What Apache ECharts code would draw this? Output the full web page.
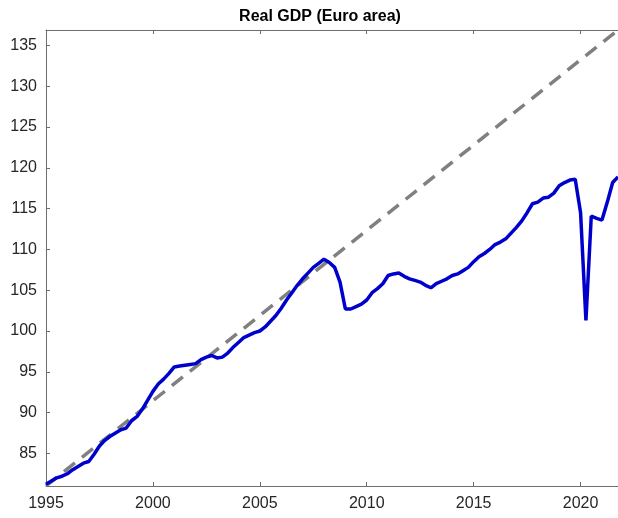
<!DOCTYPE html>
<html>
<head>
<meta charset="utf-8">
<script src="https://cdn.jsdelivr.net/npm/echarts@6/dist/echarts.min.js"></script>
<style>
    html, body { margin: 0; padding: 0; background: #fff; }
    #chart { width: 618px; height: 518px; }
</style>
</head>
<body>
<div id="chart"></div>
<script>
    // quarterly real GDP, 1995Q1 .. 2021Q4
    let startYear = 1995
    let gdp = [
        81.2, 81.6, 82.0, 82.2,
        82.5, 83.0, 83.4, 83.8,
        84.0, 84.9, 85.9, 86.6,
        87.1, 87.5, 87.9, 88.1,
        89.0, 89.5, 90.4, 91.5,
        92.6, 93.5, 94.1, 94.8,
        95.6, 95.7, 95.8, 95.9,
        96.0, 96.5, 96.8, 97.0,
        96.7, 96.8, 97.3, 98.0,
        98.6, 99.2, 99.5, 99.8,
        100.0, 100.5, 101.2, 101.9,
        102.8, 103.8, 104.7, 105.6,
        106.4, 107.1, 107.8, 108.3,
        108.8, 108.4, 107.8, 106.0,
        102.7, 102.7, 103.0, 103.3,
        103.8, 104.7, 105.2, 105.8,
        106.8, 107.0, 107.1, 106.7,
        106.4, 106.2, 106.0, 105.6,
        105.3, 105.8, 106.1, 106.4,
        106.8, 107.0, 107.4, 107.8,
        108.5, 109.1, 109.5, 110.0,
        110.6, 110.9, 111.3, 112.0,
        112.7, 113.5, 114.5, 115.6,
        115.8, 116.3, 116.4, 116.9,
        117.8, 118.2, 118.5, 118.6,
        114.5, 101.3, 114.1, 113.8,
        113.6, 115.8, 118.2, 118.9
    ]
    // linear pre-crisis trend, start and end
    let trendYears = [1995, 2021.75]
    let trendValues = [81.0, 136.9]

    let xTicks = [1995, 2000, 2005, 2010, 2015, 2020]
    let yTicks = [85, 90, 95, 100, 105, 110, 115, 120, 125, 130, 135]

    let gdpData = gdp.map(function (v, i) { return [startYear + i / 4, v] })
    let trendData = trendYears.map(function (t, i) { return [t, trendValues[i]] })

    let myChart = echarts.init(document.getElementById('chart'))
    let axisColor = '#6e6e6e'
    let labelColor = '#262626'
    let font = 'Liberation Sans, Arial, Helvetica, sans-serif'

    let option = {
        animation: false,
        title: {
            text: 'Real GDP (Euro area)',
            left: 315,
            top: 4,
            textAlign: 'center',
            textStyle: { fontSize: 16, fontWeight: 'bold', color: '#000', fontFamily: font }
        },
        grid: { left: 46, top: 30, right: 0, bottom: 32 },
        xAxis: [{
            type: 'value',
            min: trendYears[0],
            max: trendYears[1],
            splitLine: { show: false },
            axisLine: { lineStyle: { color: axisColor, width: 1 } },
            axisTick: { inside: true, length: 4, customValues: xTicks, lineStyle: { color: axisColor } },
            axisLabel: {
                customValues: xTicks, margin: 10, color: labelColor, fontSize: 16, fontFamily: font,
                formatter: function (v) { return String(v) }
            }
        }, {
            type: 'value',
            position: 'top',
            min: trendYears[0],
            max: trendYears[1],
            splitLine: { show: false },
            axisLine: { lineStyle: { color: axisColor, width: 1 } },
            axisTick: { inside: true, length: 4, customValues: xTicks, lineStyle: { color: axisColor } },
            axisLabel: { show: false }
        }],
        yAxis: {
            type: 'value',
            min: trendValues[0],
            max: trendValues[1],
            splitLine: { show: false },
            axisLine: { show: true, lineStyle: { color: axisColor, width: 1 } },
            axisTick: { show: true, inside: true, length: 4, customValues: yTicks, lineStyle: { color: axisColor } },
            axisLabel: { customValues: yTicks, margin: 9, color: labelColor, fontSize: 16, fontFamily: font }
        },
        series: [{
            name: 'trend',
            type: 'line',
            data: trendData,
            symbol: 'none',
            clip: false,
            lineStyle: { color: '#808080', width: 3.5, type: [14, 9] },
            z: 2
        }, {
            name: 'GDP',
            type: 'line',
            data: gdpData,
            symbol: 'none',
            clip: false,
            lineStyle: { color: '#0000cc', width: 3.5 },
            z: 3
        }]
    }
    myChart.setOption(option)
</script>
</body>
</html>
